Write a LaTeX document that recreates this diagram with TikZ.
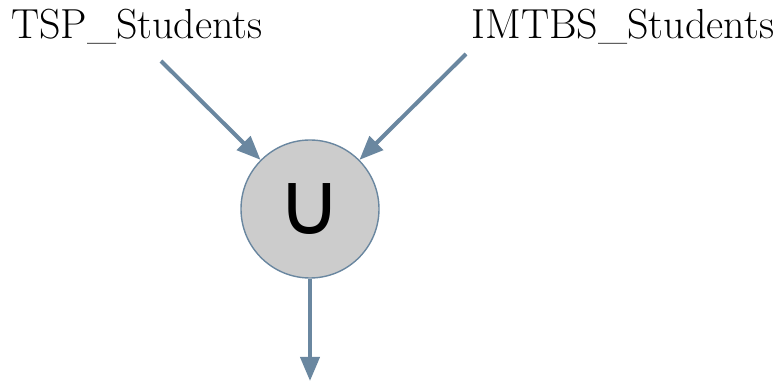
\documentclass[tikz,border=0pt]{standalone}
\usepackage{fontspec}
\newfontfamily\symfont{DejaVu Sans}
\usetikzlibrary{arrows.meta}
\definecolor{edgeblue}{HTML}{6A87A0}
\definecolor{opgray}{HTML}{CCCCCC}
\begin{document}
\begin{tikzpicture}[x=1pt,y=-1pt,
    label/.style={font=\fontsize{42}{42}\selectfont, inner sep=0pt, anchor=base},
    op/.style={circle, draw=edgeblue, fill=opgray, line width=1.4pt, minimum size=138pt, inner sep=0pt},
    flow/.style={draw=edgeblue, line width=4pt, -{Triangle[length=24pt,width=19pt]}}]
  \useasboundingbox (0,0) rectangle (780,382);
  \node[label] (tsp) at (137,39) {TSP\_Students};
  \node[label] (imtbs) at (623,39) {IMTBS\_Students};
  \node[op] (union) at (310,209) {\symfont\fontsize{88}{88}\selectfont ∪};
  \coordinate (tspfoot) at (161,61);
  \coordinate (imtbsfoot) at (466,54);
  \coordinate (out) at (310,381);
  \draw[flow] (tspfoot) -- (union);
  \draw[flow] (imtbsfoot) -- (union);
  \draw[flow] (union) -- (out);
\end{tikzpicture}
\end{document}
